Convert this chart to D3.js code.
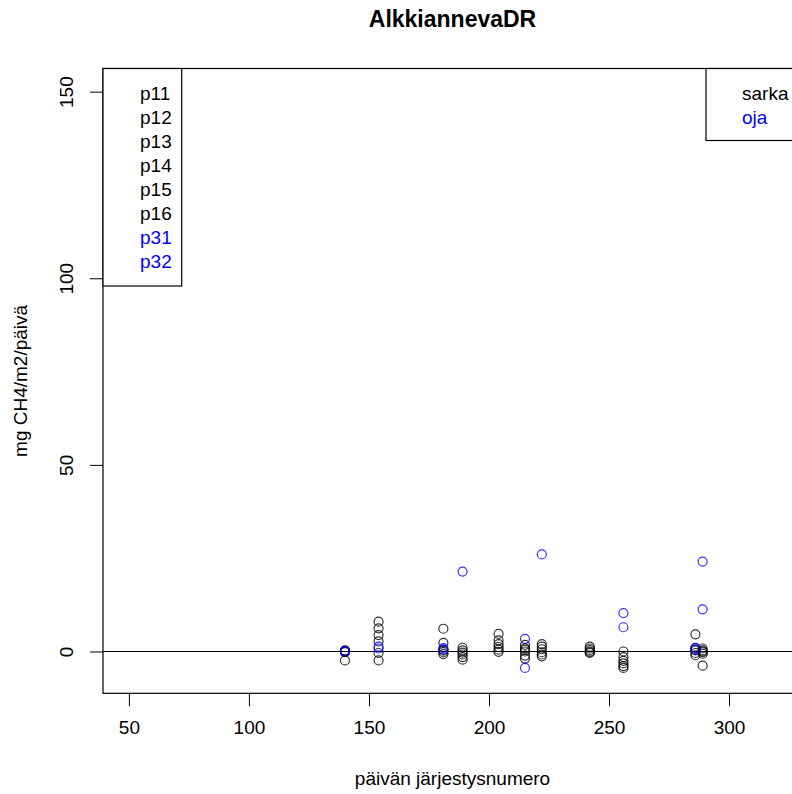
<!DOCTYPE html>
<html><head><meta charset="utf-8">
<script src="https://cdn.jsdelivr.net/npm/d3@7"></script>
<style>
body{margin:0;background:#fff;}
svg{display:block;font-family:"Liberation Sans",Arial,sans-serif;}
</style></head>
<body>
<svg id="c" width="792" height="794"></svg>
<script>
const days = [140, 154, 181, 189, 204, 215, 222, 242, 256, 286, 289];
const p11 = [0.2, 8.0, 6.1, 1.0, 4.7, 1.8, 2.0, 1.3, 0.0, 4.6, 0.8];
const p12 = [-2.4, 6.2, 2.3, 0.3, 3.0, 0.9, 1.3, 0.8, -1.5, 1.0, 0.3];
const p13 = [0.0, 4.4, 0.5, -0.3, 2.0, 0.0, 0.6, 0.4, -2.5, 0.3, -0.2];
const p14 = [0.3, 2.7, 0.2, -0.8, 1.2, -1.1, -0.2, 0.0, -3.2, -0.4, 0.0];
const p15 = [-0.2, -0.4, -0.2, -1.5, 0.5, -1.9, -0.8, -0.2, -3.9, -1.0, -0.6];
const p16 = [0.1, -2.4, -0.7, -2.2, -0.1, 0.5, -1.3, -0.4, -4.4, 0.6, -3.8];
const p31 = [0.1, 1.3, 0.9, 21.4, null, 3.4, 26.0, null, 10.3, 0.9, 24.1];
const p32 = [0.0, 0.8, 0.5, null, null, -4.4, null, null, 6.5, 0.4, 11.3];

const plotNames = ["p11","p12","p13","p14","p15","p16","p31","p32"];
const plotValues = [p11,p12,p13,p14,p15,p16,p31,p32];
const plotColors = ["#000","#000","#000","#000","#000","#000","#0000FF","#0000FF"];
const groupNames = ["sarka","oja"];
const groupColors = ["#000","#0000FF"];
const xTicks = [50,100,150,200,250,300];
const yTicks = [0,50,100,150];

const svg = d3.select("#c");
const L=103, R=802, T=68.5, B=693.3;
const x = d3.scaleLinear().domain([39.2, 330.4]).range([L, R]);
const y = d3.scaleLinear().domain([-11.2, 156.2]).range([B, T]);

// title
svg.append("text").attr("x",(L+R)/2).attr("y",27).attr("text-anchor","middle")
  .attr("font-weight","bold").attr("font-size",23).text("AlkkiannevaDR");

// x axis
const gx = svg.append("g").attr("transform",`translate(0,${B})`)
  .call(d3.axisBottom(x).tickValues(xTicks).tickSize(13).tickPadding(14).tickFormat(d3.format("d")));
gx.select(".domain").remove();
gx.selectAll("line").attr("stroke","#000").attr("stroke-width",1);
gx.selectAll("text").attr("font-size",19).attr("fill","#000").attr("font-family","Liberation Sans, Arial, sans-serif");

// y axis
const gy = svg.append("g").attr("transform",`translate(${L},0)`)
  .call(d3.axisLeft(y).tickValues(yTicks).tickSize(13).tickFormat(d3.format("d")));
gy.select(".domain").remove();
gy.selectAll("line").attr("stroke","#000").attr("stroke-width",1);
gy.selectAll("text").attr("font-size",19).attr("fill","#000")
  .attr("font-family","Liberation Sans, Arial, sans-serif")
  .attr("text-anchor","middle").attr("x",0).attr("dy",0)
  .attr("transform","translate(-30,0) rotate(-90)");

// axis titles
svg.append("text").attr("x",(L+R)/2).attr("y",785).attr("text-anchor","middle")
  .attr("font-size",19).text("päivän järjestysnumero");
svg.append("text").attr("transform",`translate(27,${(T+B)/2}) rotate(-90)`)
  .attr("text-anchor","middle").attr("font-size",19).text("mg CH4/m2/päivä");

// clip
svg.append("clipPath").attr("id","clip").append("rect")
  .attr("x",L).attr("y",T).attr("width",R-L).attr("height",B-T);

// zero line
svg.append("line").attr("x1",L).attr("x2",R).attr("y1",y(0)).attr("y2",y(0))
  .attr("stroke","#000").attr("stroke-width",1.2);

// points
const pg = svg.append("g").attr("clip-path","url(#clip)");
plotValues.forEach((vals,i)=>{
  const pts = days.map((d,j)=>({d, v: vals[j]})).filter(p=>p.v!==null);
  pg.selectAll(null).data(pts).enter().append("circle")
    .attr("cx",p=>x(p.d)).attr("cy",p=>y(p.v)).attr("r",4.5)
    .attr("fill","none").attr("stroke",plotColors[i]).attr("stroke-width",1.2)
    .attr("stroke-opacity",0.8);
});

// box
svg.append("rect").attr("x",L).attr("y",T).attr("width",R-L).attr("height",B-T)
  .attr("fill","none").attr("stroke","#000").attr("stroke-width",1.2);

// left legend
svg.append("rect").attr("x",L).attr("y",T).attr("width",181.7-L).attr("height",286-T)
  .attr("fill","#fff").attr("stroke","#000").attr("stroke-width",1.2);
plotNames.forEach((n,i)=>{
  svg.append("text").attr("x",140).attr("y",93.3+i*24.06).attr("dy","0.35em")
    .attr("font-size",19).attr("fill",plotColors[i]).text(n);
});

// right legend
svg.append("rect").attr("x",706).attr("y",T).attr("width",120).attr("height",140.5-T)
  .attr("fill","#fff").attr("stroke","#000").attr("stroke-width",1.2);
groupNames.forEach((n,i)=>{
  svg.append("text").attr("x",742).attr("y",93.3+i*24.06).attr("dy","0.35em")
    .attr("font-size",19).attr("fill",groupColors[i]).text(n);
});
</script>
</body></html>
